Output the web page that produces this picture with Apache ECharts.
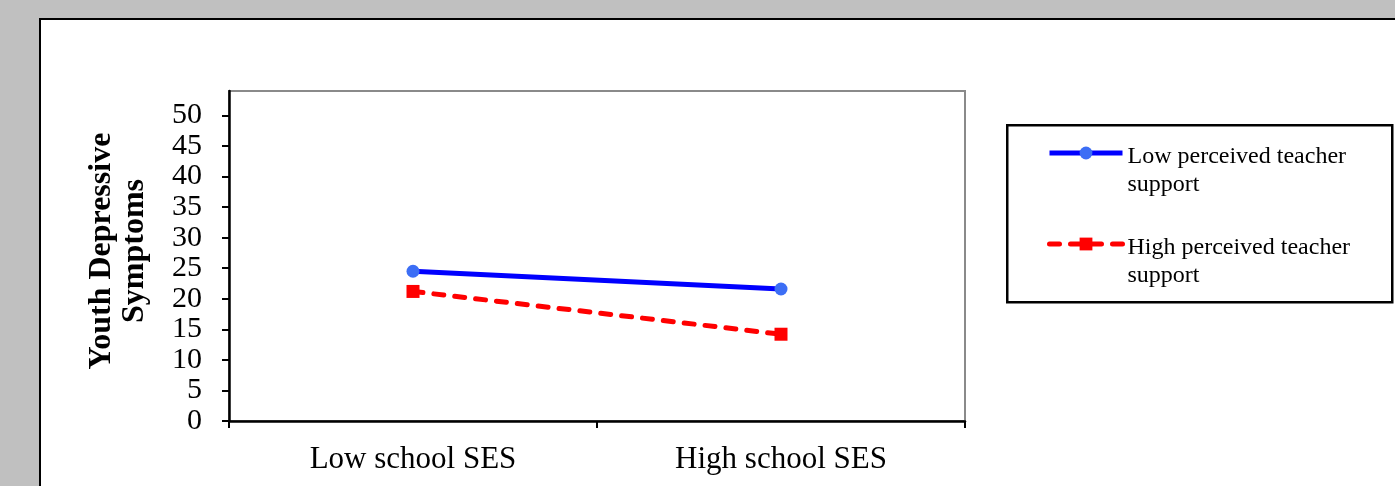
<!DOCTYPE html>
<html>
<head>
<meta charset="utf-8">
<script src="https://cdn.jsdelivr.net/npm/echarts@6/dist/echarts.min.js"></script>
<style>
  html, body { margin: 0; padding: 0; background: #c0c0c0; width: 1395px; height: 486px; overflow: hidden; }
  #frame { position: absolute; left: 39px; top: 18px; width: 2000px; height: 1000px; background: #fff; border: 2.5px solid #000; }
  #chart { position: absolute; left: 0; top: 0; width: 1395px; height: 486px; }
</style>
</head>
<body>
<div id="frame"></div>
<div id="chart"></div>
<script>
const categories = ['Low school SES', 'High school SES'];
const seriesNames = ['Low perceived teacher support', 'High perceived teacher support'];
const lowSupport = [24.5, 21.6];
const highSupport = [21.2, 14.2];
const yTicks = [0, 5, 10, 15, 20, 25, 30, 35, 40, 45, 50];
const yTitle = 'Youth Depressive\nSymptoms';

const serif = 'Liberation Serif, Times New Roman, serif';
const chart = echarts.init(document.getElementById('chart'), null, { renderer: 'canvas' });

const option = {
  backgroundColor: 'transparent',
  animation: false,
  grid: {
    left: 229, right: 430, top: 91, bottom: 65,
    show: true, borderColor: '#8a8a8a', borderWidth: 2, backgroundColor: 'transparent'
  },
  graphic: [{
    type: 'rect', left: 1006, top: 124, z: 0,
    shape: { width: 385, height: 177 },
    style: { fill: '#fff', stroke: '#000', lineWidth: 2.5 }
  }],
  legend: {
    orient: 'vertical',
    left: 1047, top: 120,
    padding: 0,
    itemGap: 14,
    itemWidth: 73,
    itemHeight: 16,
    z: 5,
    data: seriesNames,
    lineStyle: { width: 5 },
    formatter: function (name) {
      const parts = name.split(' support');
      return '{s| }\n{t|' + parts[0] + '}\n{t|support}';
    },
    textStyle: {
      fontFamily: serif, fontSize: 24, color: '#000',
      rich: {
        s: { fontSize: 10, lineHeight: 36 },
        t: { fontFamily: serif, fontSize: 24, lineHeight: 28, color: '#000' }
      }
    }
  },
  xAxis: {
    type: 'category',
    data: categories,
    boundaryGap: true,
    axisLine: { lineStyle: { color: '#000', width: 2.5 } },
    axisTick: { show: true, length: 7, lineStyle: { color: '#000', width: 2 } },
    axisLabel: { fontFamily: serif, fontSize: 31, color: '#000', margin: 23 },
    splitLine: { show: false }
  },
  yAxis: {
    type: 'value',
    min: 0, max: 54, interval: 5,
    name: yTitle,
    nameLocation: 'middle',
    nameRotate: 90,
    nameGap: 78,
    nameTextStyle: { fontFamily: serif, fontSize: 32, fontWeight: 'bold', color: '#000', lineHeight: 33, padding: [0, 0, 0, 10] },
    axisLine: { show: true, lineStyle: { color: '#000', width: 2.5 } },
    axisTick: { show: true, length: 7, customValues: yTicks, lineStyle: { color: '#000', width: 2 } },
    axisLabel: { customValues: yTicks, fontFamily: serif, fontSize: 30, color: '#000', margin: 27 },
    splitLine: { show: false }
  },
  series: [
    {
      name: seriesNames[0],
      type: 'line',
      data: lowSupport,
      symbol: 'circle',
      symbolSize: 13,
      itemStyle: { color: '#3c6ef5' },
      lineStyle: { color: '#0000ff', width: 5 },
      z: 3
    },
    {
      name: seriesNames[1],
      type: 'line',
      data: highSupport,
      symbol: 'rect',
      symbolSize: 13,
      itemStyle: { color: '#ff0000' },
      lineStyle: { color: '#ff0000', width: 5, type: [10, 11], cap: 'round' },
      z: 3
    }
  ]
};
chart.setOption(option);
</script>
</body>
</html>
